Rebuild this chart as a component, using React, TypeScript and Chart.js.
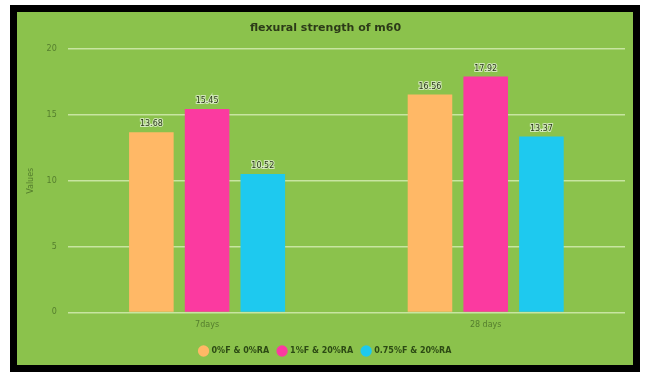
import React, { useEffect, useRef } from "react";
import { Chart, registerables } from "chart.js";

Chart.register(...registerables);

const categories = ["7days", "28 days"];
const seriesNames = ["0%F & 0%RA", "1%F & 20%RA", "0.75%F & 20%RA"];
const series0 = [13.68, 16.56];
const series1 = [15.45, 17.92];
const series2 = [10.52, 13.37];
const seriesColors = ["#ffb866", "#fb3aa0", "#1ec9ef"];
const yTicks = [0, 5, 10, 15, 20];

const valueLabels = {
  id: "valueLabels",
  afterDatasetsDraw(chart: any) {
    const ctx = chart.ctx;
    ctx.save();
    ctx.font = "8px 'DejaVu Sans'";
    ctx.textAlign = "center";
    ctx.textBaseline = "bottom";
    chart.data.datasets.forEach((ds: any, i: number) => {
      const meta = chart.getDatasetMeta(i);
      meta.data.forEach((bar: any, j: number) => {
        const txt = ds.data[j].toFixed(2);
        ctx.lineWidth = 2;
        ctx.strokeStyle = "rgba(255,255,255,0.6)";
        ctx.strokeText(txt, bar.x, bar.y - 4);
        ctx.fillStyle = "#2a3a1a";
        ctx.fillText(txt, bar.x, bar.y - 4);
      });
    });
    ctx.restore();
  },
};

export default function App() {
  const ref = useRef<HTMLCanvasElement>(null);
  useEffect(() => {
    if (!ref.current) return;
    const chart = new Chart(ref.current, {
      type: "bar",
      data: {
        labels: categories,
        datasets: [series0, series1, series2].map((d, i) => ({
          label: seriesNames[i],
          data: d,
          backgroundColor: seriesColors[i],
          borderWidth: 0,
          categoryPercentage: 0.6,
          barPercentage: 0.8,
        })),
      },
      options: {
        animation: false,
        responsive: false,
        maintainAspectRatio: false,
        layout: { padding: { top: 6, right: 8, left: 9, bottom: 0 } },
        plugins: {
          title: {
            display: true,
            text: "flexural strength of m60",
            color: "#2c3a18",
            font: { family: "'DejaVu Sans'", size: 11, weight: "bold" },
            padding: { top: 4, bottom: 14 },
          },
          legend: {
            position: "bottom",
            labels: {
              usePointStyle: true,
              pointStyle: "circle",
              boxWidth: 8,
              boxHeight: 8,
              color: "#2c4a14",
              font: { family: "'DejaVu Sans'", size: 8, weight: "bold" },
              padding: 9,
            },
          },
          tooltip: { enabled: false },
        },
        scales: {
          x: {
            grid: { display: false, drawTicks: false },
            border: { display: false },
            ticks: {
              color: "rgba(40,70,20,0.55)",
              font: { family: "'DejaVu Sans'", size: 8 },
              padding: 8,
            },
          },
          y: {
            min: 0,
            max: 20,
            afterBuildTicks: (axis: any) => {
              axis.ticks = yTicks.map((v) => ({ value: v }));
            },
            grid: { color: "rgba(220,240,190,0.75)", lineWidth: 1.5, drawTicks: false },
            border: { display: false },
            ticks: {
              color: "rgba(40,70,20,0.55)",
              font: { family: "'DejaVu Sans'", size: 8 },
              padding: 11,
            },
            title: {
              display: true,
              text: "Values",
              color: "rgba(40,70,20,0.55)",
              font: { family: "'DejaVu Sans'", size: 8 },
              padding: { top: 0, bottom: 0 },
            },
          },
        },
      },
      plugins: [valueLabels],
    });
    return () => chart.destroy();
  }, []);

  return (
    <div
      style={{
        position: "fixed",
        left: 0,
        top: 0,
        width: 645,
        height: 376,
        background: "#ffffff",
      }}
    >
      <div
        style={{
          position: "absolute",
          left: 10,
          top: 5,
          width: 630,
          height: 367,
          boxSizing: "border-box",
          border: "7px solid #000",
          background: "#8bc24c",
        }}
      >
        <canvas ref={ref} width={616} height={353} style={{ display: "block" }} />
      </div>
    </div>
  );
}
